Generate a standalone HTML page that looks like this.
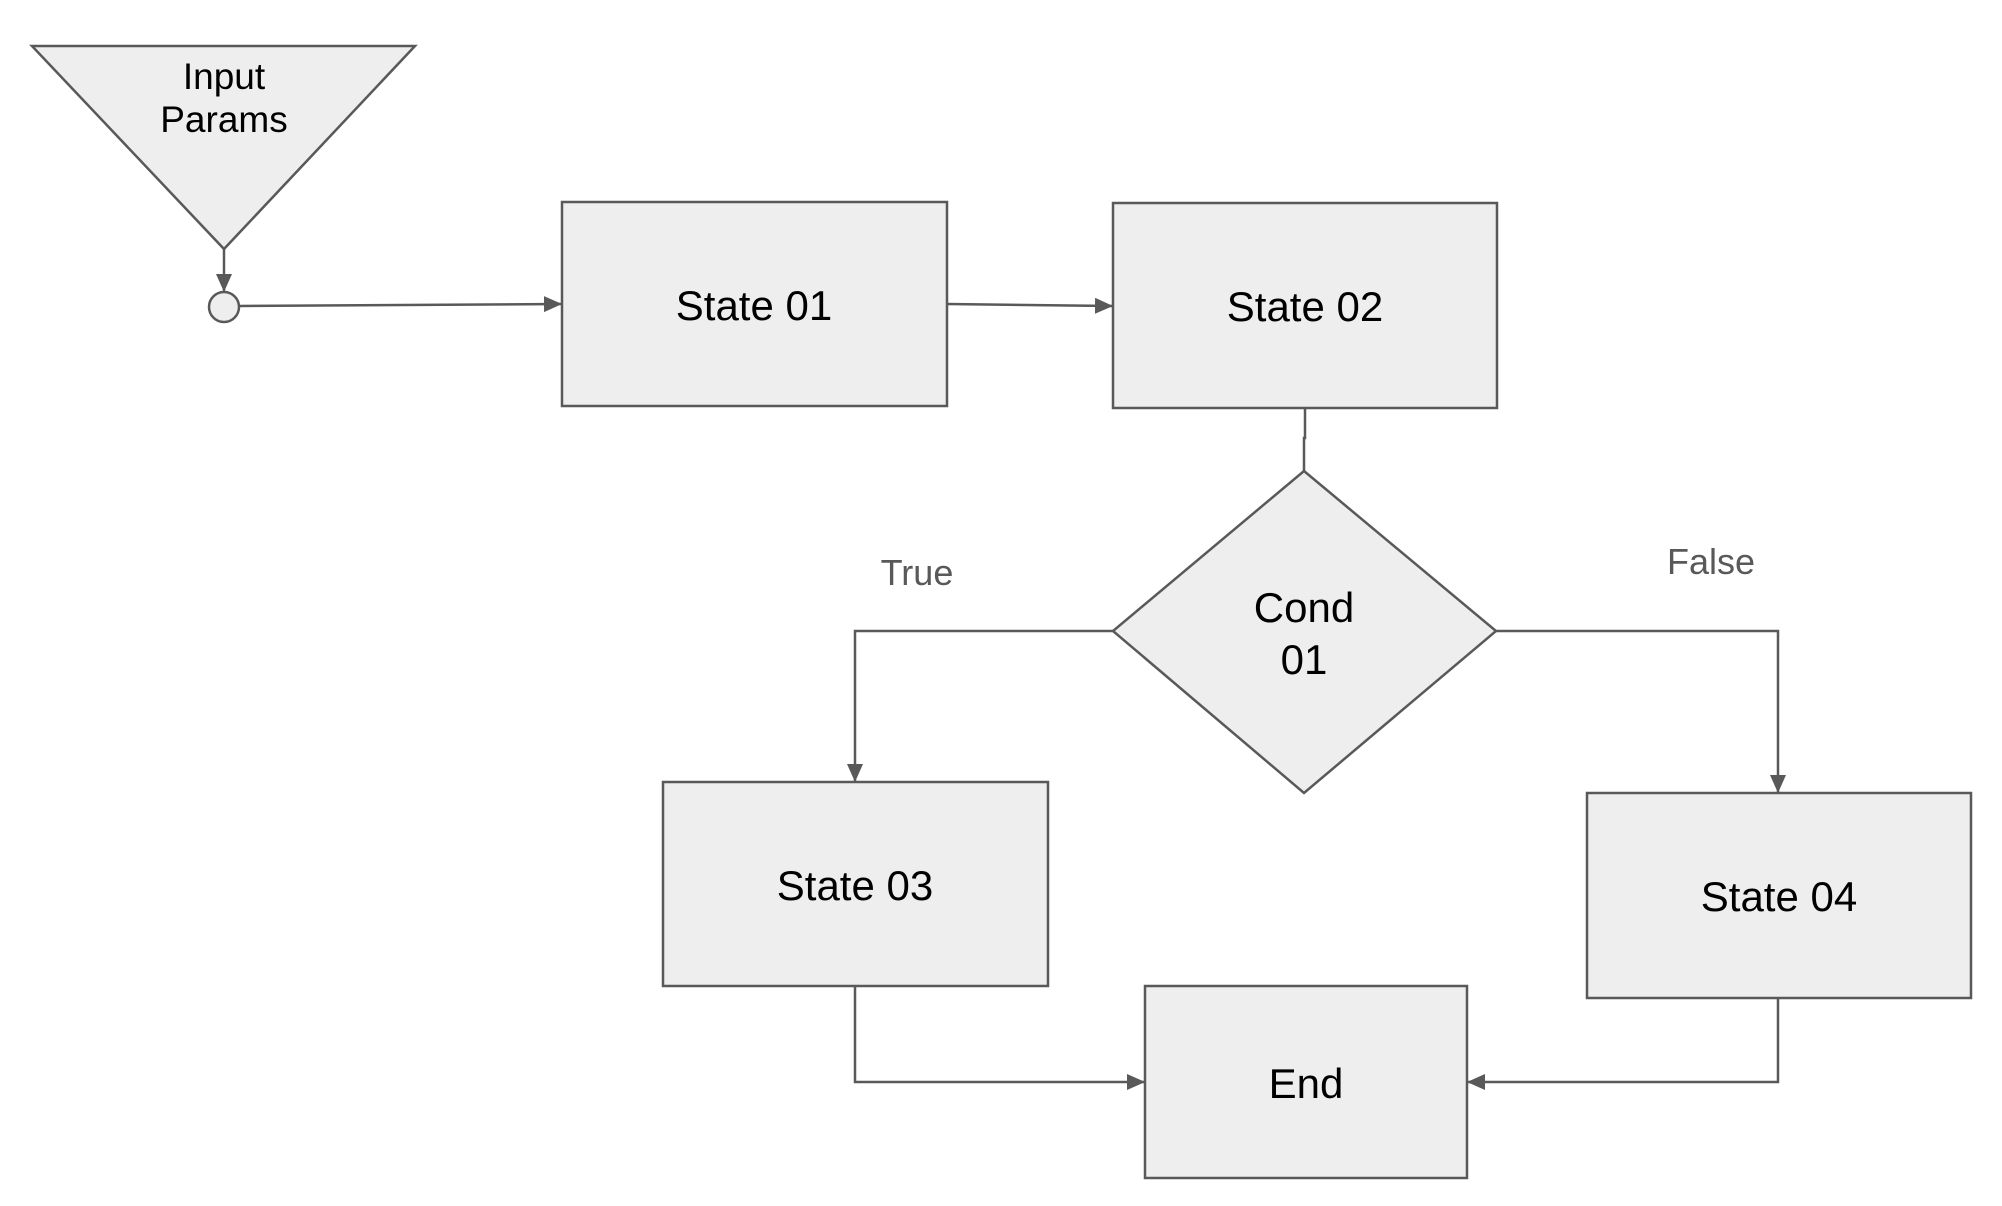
<!DOCTYPE html>
<html><head><meta charset="utf-8"><style>
html,body{margin:0;padding:0;background:#fff;}
svg{display:block;}
text{font-family:"Liberation Sans",Arial,sans-serif;}
</style></head><body>
<svg width="2002" height="1206" viewBox="0 0 2002 1206" xmlns="http://www.w3.org/2000/svg">
<defs>
<marker id="a" markerWidth="18" markerHeight="16" refX="18" refY="8" orient="auto" markerUnits="userSpaceOnUse" viewBox="0 0 18 16">
<path d="M0,0 L18,8 L0,16 z" fill="#595959"/>
</marker>
</defs>
<g stroke="#595959" stroke-width="2.5" fill="none">
<line x1="224" y1="249" x2="224" y2="292" marker-end="url(#a)"/>
<line x1="239" y1="306" x2="562" y2="304" marker-end="url(#a)"/>
<line x1="947" y1="304" x2="1113" y2="306" marker-end="url(#a)"/>
<polyline points="1305,408 1305,438 1304,438 1304,471"/>
<polyline points="1113,631 855,631 855,782" marker-end="url(#a)"/>
<polyline points="1496,631 1778,631 1778,793" marker-end="url(#a)"/>
<polyline points="855,986 855,1082 1145,1082" marker-end="url(#a)"/>
<polyline points="1778,998 1778,1082 1467,1082" marker-end="url(#a)"/>
</g>
<g stroke="#595959" stroke-width="2.5" fill="#eeeeee">
<polygon points="32,46 415,46 224,249"/>
<circle cx="224" cy="307" r="15"/>
<rect x="562" y="202" width="385" height="204"/>
<rect x="1113" y="203" width="384" height="205"/>
<polygon points="1304,471 1496,631 1304,793 1113,631"/>
<rect x="663" y="782" width="385" height="204"/>
<rect x="1587" y="793" width="384" height="205"/>
<rect x="1145" y="986" width="322" height="192"/>
</g>
<g fill="#000" text-anchor="middle" font-size="42">
<text x="224" y="89" font-size="37">Input</text>
<text x="224" y="132" font-size="37">Params</text>
<text x="754" y="320">State 01</text>
<text x="1305" y="321">State 02</text>
<text x="1304" y="622">Cond</text>
<text x="1304" y="674">01</text>
<text x="855" y="900">State 03</text>
<text x="1779" y="911">State 04</text>
<text x="1306" y="1098">End</text>
</g>
<g fill="#595959" text-anchor="middle" font-size="36">
<text x="917" y="585">True</text>
<text x="1711" y="574">False</text>
</g>
</svg>
</body></html>
